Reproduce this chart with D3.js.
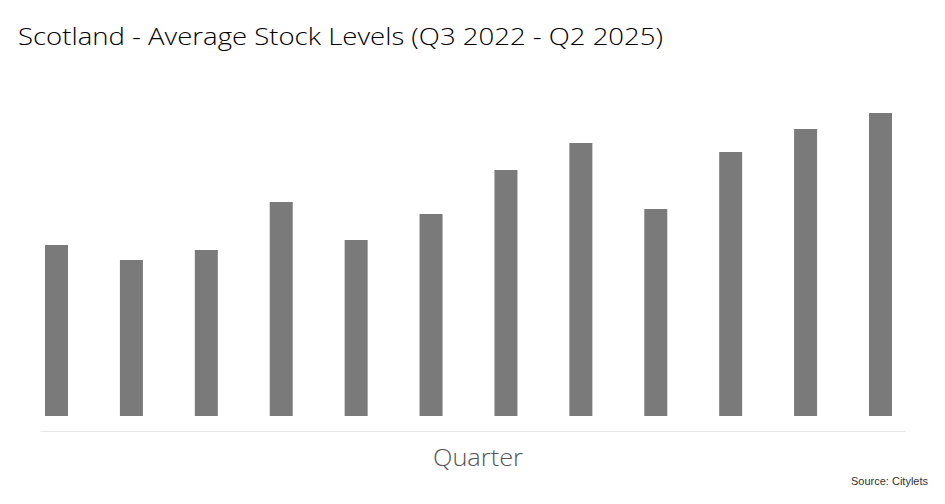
<!DOCTYPE html>
<html><head><meta charset="utf-8">
<script src="https://cdn.jsdelivr.net/npm/d3@7"></script>
<style>body{margin:0;background:#fff;} svg{display:block;}</style>
</head><body>
<svg id="c" width="945" height="504"></svg>
<script>
const quarters = ["Q3 2022","Q4 2022","Q1 2023","Q2 2023","Q3 2023","Q4 2023","Q1 2024","Q2 2024","Q3 2024","Q4 2024","Q1 2025","Q2 2025"];
const stock = [1710,1560,1660,2140,1760,2020,2460,2730,2070,2640,2870,3030];
const titleText = "Scotland - Average Stock Levels (Q3 2022 - Q2 2025)";
const xTitle = "Quarter";
const sourceText = "Source: Citylets";

const svg = d3.select("#c");
svg.append("rect").attr("width",945).attr("height",504).attr("fill","#fff");
const x = d3.scaleBand().domain(quarters).range([45,892]).paddingInner(0.693).paddingOuter(0);
const y = d3.scaleLinear().domain([0,4000]).range([416,16]);

svg.append("g").selectAll("rect").data(quarters).join("rect")
  .attr("x",d=>x(d)).attr("width",x.bandwidth())
  .attr("y",(d,i)=>y(stock[i])).attr("height",(d,i)=>y(0)-y(stock[i]))
  .attr("fill","#7a7a7a");

const ax = svg.append("g").attr("transform","translate(0,431)")
  .call(d3.axisBottom(x.copy().range([40,905])).tickSize(0).tickFormat(""));
ax.select(".domain").attr("stroke","#e6e6e6").attr("stroke-width",1.2);

svg.append("text").attr("x",18).attr("y",45).attr("font-family","'Open Sans', Lato, sans-serif")
  .attr("font-weight",300).attr("font-size",24).attr("fill","#000")
  .attr("textLength",645).attr("lengthAdjust","spacingAndGlyphs").text(titleText);
svg.append("text").attr("x",478).attr("y",466).attr("text-anchor","middle")
  .attr("font-family","'Open Sans', Lato, sans-serif").attr("font-weight",300).attr("font-size",24).attr("fill","#555")
  .attr("textLength",90).attr("lengthAdjust","spacingAndGlyphs").text(xTitle);
svg.append("text").attr("x",928).attr("y",485).attr("text-anchor","end")
  .attr("font-family","'Liberation Sans', Arial, sans-serif").attr("font-size",11).attr("fill","#333").text(sourceText);
</script>
</body></html>
